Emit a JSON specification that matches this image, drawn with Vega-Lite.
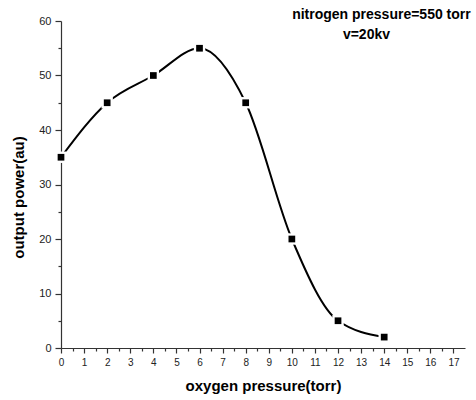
{
  "$schema": "https://vega.github.io/schema/vega-lite/v6.json",
  "width": 404,
  "height": 327,
  "autosize": {"type": "none"},
  "padding": {"left": 61, "top": 21, "right": 11, "bottom": 52},
  "background": "white",
  "config": {
    "view": {"stroke": null},
    "font": "Liberation Sans",
    "axis": {
      "domainColor": "#333",
      "domainWidth": 1.2,
      "tickColor": "#333",
      "tickWidth": 1.2,
      "labelColor": "#222",
      "labelFont": "Liberation Sans",
      "labelFontSize": 10.5,
      "titleFont": "Liberation Sans",
      "titleFontSize": 15,
      "titleFontWeight": "bold",
      "titleColor": "#000",
      "grid": false,
      "labelOverlap": false
    }
  },
  "datasets": {
    "pts": [
      {"oxygen": 0, "power": 35},
      {"oxygen": 2, "power": 45},
      {"oxygen": 4, "power": 50},
      {"oxygen": 6, "power": 55},
      {"oxygen": 8, "power": 45},
      {"oxygen": 10, "power": 20},
      {"oxygen": 12, "power": 5},
      {"oxygen": 14, "power": 2}
    ],
    "notes": [
      {"x": 13.88, "y": 61.1, "label": "nitrogen pressure=550 torr"},
      {"x": 13.23, "y": 57.5, "label": "v=20kv"}
    ]
  },
  "data": {"name": "pts"},
  "encoding": {
    "x": {
      "field": "oxygen", "type": "quantitative",
      "scale": {"domain": [0, 17.5], "nice": false, "zero": false},
      "axis": {
        "title": "oxygen pressure(torr)",
        "values": [0,0.5,1,1.5,2,2.5,3,3.5,4,4.5,5,5.5,6,6.5,7,7.5,8,8.5,9,9.5,10,10.5,11,11.5,12,12.5,13,13.5,14,14.5,15,15.5,16,16.5,17],
        "labelExpr": "datum.value % 1 === 0 ? format(datum.value, 'd') : ''",
        "tickSize": {"condition": {"test": "datum.value % 1 === 0", "value": 5}, "value": 3},
        "labelOverlap": false,
        "labelFontSize": 10,
        "labelPadding": 4,
        "titlePadding": 11,
        "labelFlush": false
      }
    },
    "y": {
      "field": "power", "type": "quantitative",
      "scale": {"domain": [0, 60], "nice": false},
      "axis": {
        "title": "output power(au)",
        "values": [0,5,10,15,20,25,30,35,40,45,50,55,60],
        "labelExpr": "datum.value % 10 === 0 ? format(datum.value, 'd') : ''",
        "tickSize": {"condition": {"test": "datum.value % 10 === 0", "value": 6}, "value": 3},
        "labelOverlap": false,
        "labelFontSize": 11,
        "labelPadding": 4,
        "titlePadding": 12,
        "titleY": 176,
        "labelFlush": false
      }
    }
  },
  "layer": [
    {
      "mark": {"type": "line", "interpolate": "monotone", "color": "#000", "strokeWidth": 2}
    },
    {
      "mark": {"type": "point", "shape": "square", "filled": true, "color": "white", "size": 130, "opacity": 1, "clip": false}
    },
    {
      "mark": {"type": "point", "shape": "square", "filled": true, "color": "#000", "size": 45, "opacity": 1, "clip": false}
    },
    {
      "data": {"name": "notes"},
      "mark": {"type": "text", "font": "Liberation Sans", "fontSize": 14, "fontWeight": "bold", "color": "#000", "align": "center", "baseline": "middle", "clip": false},
      "encoding": {
        "x": {"field": "x", "type": "quantitative"},
        "y": {"field": "y", "type": "quantitative"},
        "text": {"field": "label"}
      }
    }
  ]
}
